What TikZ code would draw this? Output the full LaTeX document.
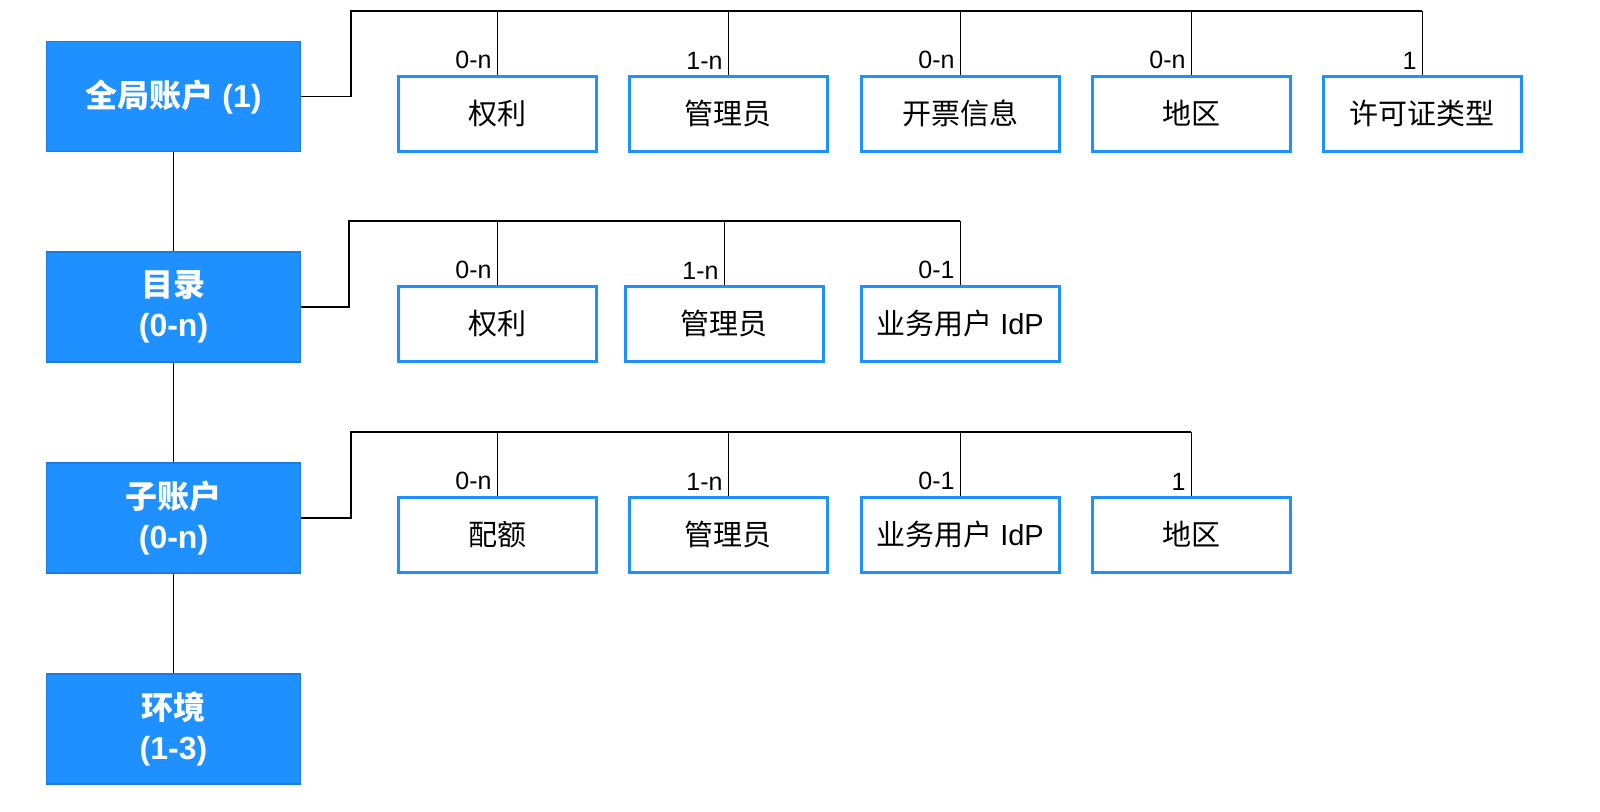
\documentclass[tikz,border=0pt]{standalone}
\usepackage{fontspec}
\setmainfont{Liberation Sans}
\newfontfamily\cjk{Noto Sans CJK SC}
\usetikzlibrary{positioning}
\definecolor{boxblue}{HTML}{1E90FF}
\definecolor{edgeblue}{HTML}{1A7BE0}
\tikzstyle{level}=[rectangle, draw=edgeblue, fill=boxblue, text=white, line width=0.6pt, minimum width=127pt, minimum height=55pt, align=center, font=\fontsize{16}{20}\selectfont\bfseries]
\tikzstyle{attrbox}=[rectangle, draw=boxblue, line width=1.5pt, minimum width=99pt, minimum height=37.5pt, font=\fontsize{14.5}{17}\selectfont]
\tikzstyle{card}=[anchor=south east, pos=0, inner sep=2.5pt, font=\fontsize{12.5}{14}\selectfont]
\newcommand{\level}{\node[level]}
\newcommand{\attrbox}{\node[attrbox]}

\begin{document}
\begin{tikzpicture}[x=0.5pt, y=-0.5pt,
            trunk/.style={draw, line width=0.7pt},
            branch/.style={draw, line width=0.4pt}
        ]
            \useasboundingbox (0,0) rectangle (1600,811);

            % levels
            \level (g) at (173.5,96.5) {{\cjk 全局账户} (1)};
            \level (d) at (173.5,307) {{\cjk 目录}\\(0-n)};
            \level (s) at (173.5,518) {{\cjk 子账户}\\(0-n)};
            \level (e) at (173.5,729) {{\cjk 环境}\\(1-3)};

            \attrbox (g1) at (497,113.5) {\cjk 权利};
            \attrbox (g2) at (728,113.5) {\cjk 管理员};
            \attrbox (g3) at (960,113.5) {\cjk 开票信息};
            \attrbox (g4) at (1191,113.5) {\cjk 地区};
            \attrbox (g5) at (1422,113.5) {\cjk 许可证类型};

            \attrbox (d1) at (497,323.5) {\cjk 权利};
            \attrbox (d2) at (724,323.5) {\cjk 管理员};
            \attrbox (d3) at (960,323.5) {{\cjk 业务用户} IdP};

            \attrbox (s1) at (497,534.5) {\cjk 配额};
            \attrbox (s2) at (728,534.5) {\cjk 管理员};
            \attrbox (s3) at (960,534.5) {{\cjk 业务用户} IdP};
            \attrbox (s4) at (1191,534.5) {\cjk 地区};

            \coordinate (gb) at (351,11);
            \coordinate (db) at (349,221);
            \coordinate (sb) at (351,432);

            \path[trunk]
                (g.south) edge (d.north)
                (d.south) edge (s.north)
                (s.south) edge (e.north)
            ;
            \draw[trunk] (g.east) -| (gb) -- (gb -| g5.north);
            \draw[trunk] (d.east) -| (db) -- (db -| d3.north);
            \draw[trunk] (s.east) -| (sb) -- (sb -| s4.north);

            \path[branch]
                (g1.north) edge node[card] {0-n} (g1.north |- gb)
                (g2.north) edge node[card] {1-n} (g2.north |- gb)
                (g3.north) edge node[card] {0-n} (g3.north |- gb)
                (g4.north) edge node[card] {0-n} (g4.north |- gb)
                (g5.north) edge node[card] {1} (g5.north |- gb)

                (d1.north) edge node[card] {0-n} (d1.north |- db)
                (d2.north) edge node[card] {1-n} (d2.north |- db)
                (d3.north) edge node[card] {0-1} (d3.north |- db)

                (s1.north) edge node[card] {0-n} (s1.north |- sb)
                (s2.north) edge node[card] {1-n} (s2.north |- sb)
                (s3.north) edge node[card] {0-1} (s3.north |- sb)
                (s4.north) edge node[card] {1} (s4.north |- sb)
            ;
        \end{tikzpicture}
\end{document}
